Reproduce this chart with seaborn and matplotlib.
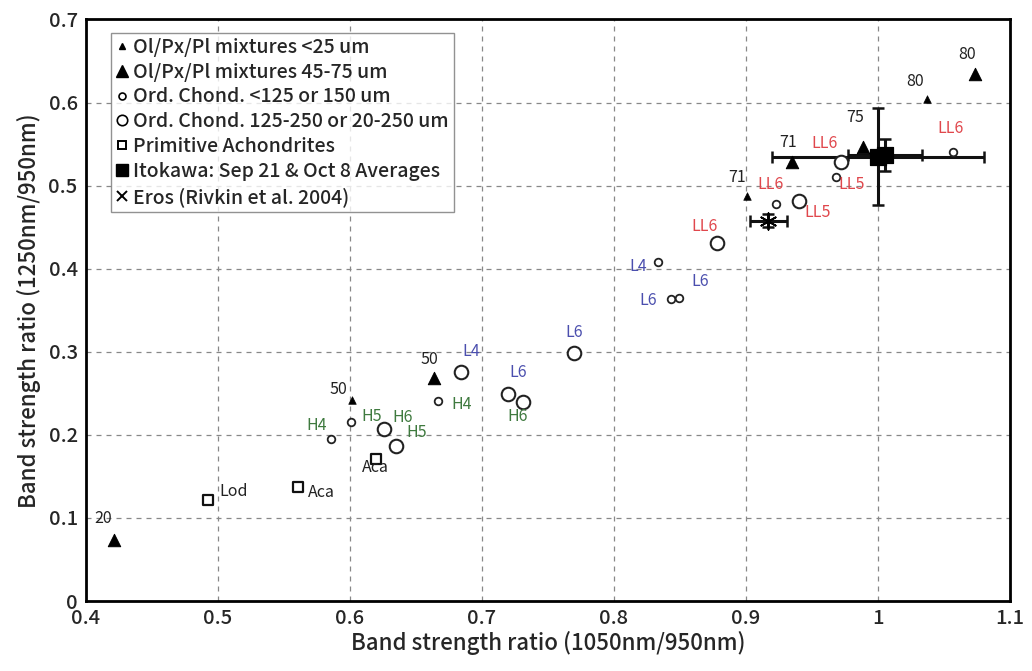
import matplotlib
matplotlib.use("Agg")
import matplotlib.pyplot as plt
import seaborn as sns
import pandas as pd
from matplotlib.lines import Line2D

# ---- data ----
tri_small_x = [0.6015, 0.9007, 1.037]
tri_small_y = [0.242, 0.487, 0.604]
tri_small_lab = ["50", "71", "80"]

tri_large_x = [0.421, 0.664, 0.935, 0.989, 1.0735]
tri_large_y = [0.0735, 0.269, 0.528, 0.547, 0.634]
tri_large_lab = ["20", "50", "71", "75", "80"]

oc_small_x = [0.586, 0.601, 0.667, 0.833, 0.843, 0.849, 0.923, 0.968, 1.057]
oc_small_y = [0.195, 0.216, 0.241, 0.408, 0.364, 0.365, 0.478, 0.510, 0.541]
oc_small_lab = ["H4", "H5", "H4", "L4", "L6", "L6", "LL6", "LL5", "LL6"]

oc_large_x = [0.626, 0.635, 0.684, 0.720, 0.731, 0.770, 0.878, 0.940, 0.972]
oc_large_y = [0.207, 0.187, 0.276, 0.249, 0.240, 0.298, 0.431, 0.482, 0.529]
oc_large_lab = ["H6", "H5", "L4", "L6", "H6", "L6", "LL6", "LL5", "LL6"]

ach_x = [0.4924, 0.5606, 0.620]
ach_y = [0.122, 0.137, 0.171]
ach_lab = ["Lod", "Aca", "Aca"]

ito_x = [1.000, 1.005]
ito_y = [0.535, 0.537]
ito_xerr = [0.080, 0.028]
ito_yerr = [0.058, 0.019]

eros_x = [0.917]
eros_y = [0.458]
eros_xerr = [0.014]
eros_yerr = [0.008]

legend_labels = ["Ol/Px/Pl mixtures <25 um", "Ol/Px/Pl mixtures 45-75 um",
                 "Ord. Chond. <125 or 150 um", "Ord. Chond. 125-250 or 20-250 um",
                 "Primitive Achondrites", "Itokawa: Sep 21 & Oct 8 Averages",
                 "Eros (Rivkin et al. 2004)"]

# ---- label offsets (pixels) ----
tri_small_off = [(-14, 10), (-10, 19), (-12, 18)]
tri_large_off = [(-11, 21), (-5, 18), (-4, 20), (-8, 29), (-8, 20)]
oc_small_off = [(-15, 14), (20, 5), (23, -4), (-19, -4), (-23, -2), (22, 16), (-6, 19), (16, -7), (-3, 23)]
oc_large_off = [(18, 12), (21, 13), (10, 20), (10, 22), (-5, -15), (0, 21), (-12, 16), (19, -12), (-16, 18)]
ach_off = [(26, 8), (23, -5), (-1, -9)]

sns.set_style("white")
plt.rcParams['font.family'] = ['Noto Sans CJK JP', 'DejaVu Sans']

fig = plt.figure(figsize=(10.32, 6.71), dpi=100)
ax = fig.add_axes([0.0833, 0.1043, 0.8954, 0.8667])

CLASS_COLORS = {"LL": "#e0474c", "L": "#4b4fae", "H": "#3f7a3f"}

def color_for(lab):
    for key in ("LL", "L", "H"):
        if lab.startswith(key) and lab[len(key):].isdigit():
            return CLASS_COLORS[key]
    return "#222222"

# error bars
ax.errorbar(ito_x, ito_y, xerr=ito_xerr, yerr=ito_yerr, fmt='none', ecolor='#111111',
            elinewidth=2.2, capsize=4, capthick=1.8, zorder=3)
ax.errorbar(eros_x, eros_y, xerr=eros_xerr, yerr=eros_yerr, fmt='none', ecolor='#111111',
            elinewidth=2.2, capsize=4, capthick=1.8, zorder=3)

sns.scatterplot(x=tri_small_x, y=tri_small_y, marker='^', s=30, color='black', edgecolor='black', ax=ax, zorder=4)
sns.scatterplot(x=tri_large_x, y=tri_large_y, marker='^', s=80, color='black', edgecolor='black', ax=ax, zorder=4)
sns.scatterplot(x=oc_small_x, y=oc_small_y, marker='o', s=30, facecolor='white', edgecolor='#222222', linewidth=1.3, ax=ax, zorder=4)
sns.scatterplot(x=oc_large_x, y=oc_large_y, marker='o', s=95, facecolor='white', edgecolor='#222222', linewidth=1.5, ax=ax, zorder=4)
sns.scatterplot(x=ach_x, y=ach_y, marker='s', s=45, facecolor='white', edgecolor='#111111', linewidth=1.6, ax=ax, zorder=4)
sns.scatterplot(x=ito_x, y=ito_y, marker='s', s=120, color='black', edgecolor='black', ax=ax, zorder=5)
sns.scatterplot(x=eros_x, y=eros_y, marker=(6, 2, 0), s=140, color='black', linewidth=1.3, ax=ax, zorder=5)

def annotate(xs, ys, labs, offs):
    for x, y, lab, off in zip(xs, ys, labs, offs):
        ax.annotate(lab, (x, y), xytext=off, textcoords='offset pixels',
                    ha='center', va='center', fontsize=11.5, color=color_for(lab), zorder=6)

annotate(tri_small_x, tri_small_y, tri_small_lab, tri_small_off)
annotate(tri_large_x, tri_large_y, tri_large_lab, tri_large_off)
annotate(oc_small_x, oc_small_y, oc_small_lab, oc_small_off)
annotate(oc_large_x, oc_large_y, oc_large_lab, oc_large_off)
annotate(ach_x, ach_y, ach_lab, ach_off)

ax.set_xlim(0.4, 1.1)
ax.set_ylim(0, 0.7)
ax.set_xticks([0.4, 0.5, 0.6, 0.7, 0.8, 0.9, 1.0, 1.1])
ax.set_xticklabels(["0.4", "0.5", "0.6", "0.7", "0.8", "0.9", "1", "1.1"])
ax.set_yticks([0, 0.1, 0.2, 0.3, 0.4, 0.5, 0.6, 0.7])
ax.set_yticklabels(["0", "0.1", "0.2", "0.3", "0.4", "0.5", "0.6", "0.7"])
ax.tick_params(axis='both', labelsize=14.5, length=0, pad=6)
for t in ax.get_xticklabels() + ax.get_yticklabels():
    t.set_fontweight('medium')
ax.grid(True, linestyle=(0, (4, 4)), color='#888888', linewidth=0.9)
for sp in ax.spines.values():
    sp.set_color('black')
    sp.set_linewidth(2)
    sp.set_visible(True)

ax.set_xlabel("Band strength ratio (1050nm/950nm)", fontsize=16, fontweight='medium', labelpad=2)
ax.set_ylabel("Band strength ratio (1250nm/950nm)", fontsize=16, fontweight='medium', labelpad=5)

handles = [
    Line2D([], [], ls='none', marker='^', ms=5, color='black'),
    Line2D([], [], ls='none', marker='^', ms=8, color='black'),
    Line2D([], [], ls='none', marker='o', ms=5, mfc='white', mec='black', mew=1.2),
    Line2D([], [], ls='none', marker='o', ms=7.5, mfc='white', mec='black', mew=1.2),
    Line2D([], [], ls='none', marker='s', ms=6, mfc='white', mec='black', mew=1.4),
    Line2D([], [], ls='none', marker='s', ms=8, color='black'),
    Line2D([], [], ls='none', marker='x', ms=7, color='black', mew=1.4),
]
leg = ax.legend(handles, legend_labels, loc='upper left', bbox_to_anchor=(0.027, 0.977),
                fontsize=14, frameon=True, fancybox=False, edgecolor='#777777',
                handlelength=0.6, handletextpad=0.3, borderpad=0.25, labelspacing=0.3,
                borderaxespad=0)
leg.get_frame().set_linewidth(1.0)
leg.set_zorder(10)
for t in leg.get_texts():
    t.set_fontweight('medium')

fig.savefig("out.png", dpi=100)
